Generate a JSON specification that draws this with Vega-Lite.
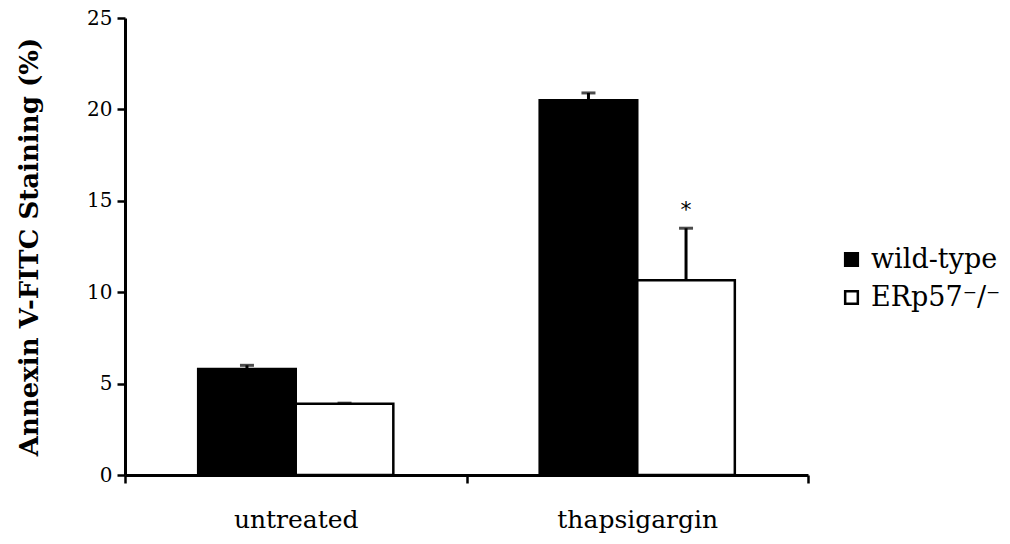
{
  "$schema": "https://vega.github.io/schema/vega-lite/v6.json",
  "width": 683,
  "height": 457,
  "autosize": {"type": "none"},
  "padding": {"left": 125, "top": 18, "right": 202, "bottom": 69},
  "background": "white",
  "config": {
    "view": {"stroke": null},
    "font": "DejaVu Serif"
  },
  "data": {
    "values": [
      {"treatment": "untreated", "genotype": "wild-type", "value": 5.8, "upper": 6.0, "star": ""},
      {"treatment": "untreated", "genotype": "ERp57-/-", "value": 3.9, "upper": 3.93, "star": ""},
      {"treatment": "thapsigargin", "genotype": "wild-type", "value": 20.5, "upper": 20.9, "star": ""},
      {"treatment": "thapsigargin", "genotype": "ERp57-/-", "value": 10.65, "upper": 13.5, "star": "*"}
    ]
  },
  "encoding": {
    "x": {
      "field": "treatment", "type": "nominal", "sort": ["untreated", "thapsigargin"],
      "scale": {"paddingInner": 0, "paddingOuter": 0},
      "axis": {
        "title": null, "labelAngle": 0, "tickBand": "extent",
        "domainColor": "black", "domainWidth": 3, "tickColor": "black", "tickWidth": 2.5, "tickSize": 8,
        "labelFontSize": 25, "labelColor": "black", "labelPadding": 24, "labelFont": "DejaVu Serif"
      }
    },
    "xOffset": {
      "field": "genotype", "type": "nominal", "sort": ["wild-type", "ERp57-/-"],
      "scale": {"paddingInner": 0, "paddingOuter": 0.75}
    }
  },
  "layer": [
    {
      "mark": {"type": "bar", "stroke": "black", "strokeWidth": 2.5},
      "encoding": {
        "y": {
          "field": "value", "type": "quantitative",
          "scale": {"domain": [0, 25], "nice": false},
          "axis": {
            "values": [0, 5, 10, 15, 20, 25], "grid": false,
            "title": "Annexin V-FITC Staining (%)",
            "titleFontSize": 26, "titleFontWeight": "bold", "titleColor": "black", "titlePadding": 44, "titleFont": "DejaVu Serif",
            "domainColor": "black", "domainWidth": 3, "tickColor": "black", "tickWidth": 2.5, "tickSize": 8,
            "labelFontSize": 20, "labelColor": "black", "labelPadding": 5, "labelFont": "DejaVu Serif"
          }
        },
        "fill": {
          "field": "genotype", "type": "nominal", "sort": ["wild-type", "ERp57-/-"],
          "scale": {"domain": ["wild-type", "ERp57-/-"], "range": ["black", "white"]},
          "legend": {
            "title": null, "orient": "none", "legendX": 713, "legendY": 228,
            "symbolType": "square", "symbolSize": 160, "symbolStrokeColor": "black", "symbolStrokeWidth": 2.5,
            "labelFontSize": 27, "labelColor": "black", "labelFont": "DejaVu Serif",
            "rowPadding": 10, "labelOffset": 6,
            "labelExpr": "datum.label == 'ERp57-/-' ? 'ERp57⁻/⁻' : datum.label"
          }
        }
      }
    },
    {
      "mark": {"type": "rule", "strokeWidth": 3, "color": "black"},
      "encoding": {
        "y": {"field": "value", "type": "quantitative"},
        "y2": {"field": "upper"}
      }
    },
    {
      "mark": {"type": "tick", "orient": "horizontal", "thickness": 3, "size": 14, "color": "black"},
      "encoding": {
        "y": {"field": "upper", "type": "quantitative"}
      }
    },
    {
      "mark": {"type": "text", "fontSize": 22, "dy": -18, "color": "black", "font": "DejaVu Sans"},
      "encoding": {
        "y": {"field": "upper", "type": "quantitative"},
        "text": {"field": "star"}
      }
    }
  ]
}
